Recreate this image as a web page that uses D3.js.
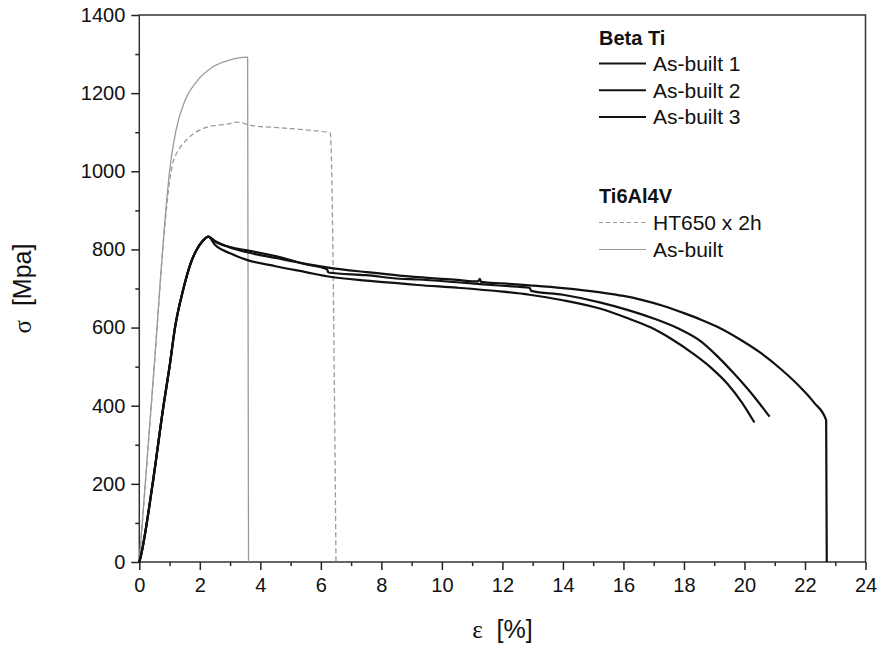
<!DOCTYPE html>
<html>
<head>
<meta charset="utf-8">
<script src="https://cdn.jsdelivr.net/npm/d3@7"></script>
<style>
  body { margin: 0; background: #fff; }
  svg { font-family: "Liberation Sans", Arial, sans-serif; }
</style>
</head>
<body>
<div id="chart_container"></div>
<script>
// stress-strain data: [strain %, stress MPa]
let betaRise = [[0, 0], [0.05, 15], [0.44, 200], [0.8, 400], [1.0, 500], [1.18, 600],
  [1.46, 700], [1.7, 765], [1.9, 800], [2.1, 822], [2.28, 833]];

let betaAsBuilt1 = betaRise.concat([[2.5, 822], [3.0, 805], [3.6, 792], [4.5, 778], [5.5, 763],
  [6.3, 753], [7.5, 742], [8.6, 733], [9.2, 729], [10.5, 722], [11.2, 718], [11.25, 725],
  [11.3, 717], [12.0, 713], [12.9, 708], [14.0, 701], [15.25, 690], [16.0, 681], [16.6, 671],
  [17.3, 656], [18.0, 637], [18.6, 619], [19.1, 602], [19.8, 572], [20.5, 537], [21.2, 494],
  [21.9, 443], [22.3, 408], [22.7, 363], [22.72, 0]]);

let betaAsBuilt2 = betaRise.concat([[2.5, 820], [3.0, 806], [3.6, 797], [4.5, 783], [5.5, 762],
  [6.2, 749], [6.25, 741], [7.5, 734], [8.6, 725], [9.2, 723], [10.5, 716], [12.0, 707],
  [12.9, 702], [12.95, 694], [14.0, 684], [15.25, 664], [16.1, 646], [16.97, 624], [17.8, 598],
  [18.57, 564], [19.1, 527], [19.67, 481], [20.3, 425], [20.83, 372]]);

let betaAsBuilt3 = betaRise.concat([[2.5, 812], [3.0, 790], [3.6, 772], [4.5, 757], [5.5, 742],
  [6.3, 730], [7.5, 720], [8.6, 713], [9.2, 709], [10.5, 702], [12.0, 692], [12.9, 684],
  [14.0, 670], [15.25, 648], [16.1, 625], [16.91, 600], [17.6, 570], [18.29, 534], [18.9, 497],
  [19.45, 455], [19.9, 410], [20.33, 357]]);

let tiHT650 = [[0, 0], [0.5, 505], [0.85, 865], [1.0, 975], [1.1, 1018], [1.3, 1055],
  [1.57, 1081], [2.12, 1110], [2.6, 1118], [3.0, 1122], [3.2, 1126], [3.78, 1116], [4.3, 1113],
  [4.88, 1110], [5.5, 1106], [6.31, 1098], [6.5, 0]];

let tiAsBuilt = [[0, 0], [0.5, 510], [0.85, 876], [1.0, 1000], [1.2, 1100], [1.52, 1183],
  [1.9, 1230], [2.45, 1268], [3.0, 1285], [3.56, 1292], [3.58, 1290], [3.61, 0]];

let xTicks = [0, 2, 4, 6, 8, 10, 12, 14, 16, 18, 20, 22, 24];
let yTicks = [0, 200, 400, 600, 800, 1000, 1200, 1400];

let betaNames = ["As-built 1", "As-built 2", "As-built 3"];
let tiNames = ["HT650 x 2h", "As-built"];

let svgWidth = 879;
let svgHeight = 646;
let plotLeft = 139.3, plotRight = 865.5, plotTop = 15, plotBottom = 562;
let tickFont = 20;
let legendFont = 21;
let titleFont = 25;
let greyColor = "#9a9a9a";

let svg = d3.select("#chart_container")
    .append("svg")
    .attr("width", svgWidth)
    .attr("height", svgHeight);

let xScale = d3.scaleLinear().domain([0, 24]).range([plotLeft, plotRight]);
let yScale = d3.scaleLinear().domain([0, 1400]).range([plotBottom, plotTop]);

// minor ticks first, then the major ones with labels
svg.append("g")
    .attr("transform", "translate(0," + plotBottom + ")")
    .call(d3.axisBottom(xScale).tickValues(d3.range(1, 24, 2)).tickSize(4).tickFormat(""));
svg.append("g")
    .attr("transform", "translate(" + plotLeft + ",0)")
    .call(d3.axisLeft(yScale).tickValues(d3.range(100, 1400, 200)).tickSize(4).tickFormat(""));

svg.append("g")
    .attr("transform", "translate(0," + plotBottom + ")")
    .call(d3.axisBottom(xScale).tickValues(xTicks).tickSize(8).tickPadding(8)
      .tickFormat(d3.format("d")));
svg.append("g")
    .attr("transform", "translate(" + plotLeft + ",0)")
    .call(d3.axisLeft(yScale).tickValues(yTicks).tickSize(8).tickPadding(6)
      .tickFormat(d3.format("d")));

svg.selectAll(".domain").remove();
svg.selectAll(".tick line").attr("stroke", "#222").attr("stroke-width", 1.5);
svg.selectAll(".tick text")
    .attr("font-family", "Liberation Sans, Arial, sans-serif")
    .attr("font-size", tickFont)
    .attr("fill", "#111");

// frame
svg.append("rect")
    .attr("x", plotLeft).attr("y", plotTop)
    .attr("width", plotRight - plotLeft).attr("height", plotBottom - plotTop)
    .attr("fill", "none")
    .attr("stroke", "#333")
    .attr("stroke-width", 1.5);

let line = d3.line()
    .x(d => xScale(d[0]))
    .y(d => yScale(d[1]))
    .curve(d3.curveMonotoneX);

let plot = svg.append("g");

plot.append("path").datum(tiHT650)
    .attr("d", line).attr("fill", "none")
    .attr("stroke", greyColor).attr("stroke-width", 1.3)
    .attr("stroke-dasharray", "5,3");
plot.append("path").datum(tiAsBuilt)
    .attr("d", line).attr("fill", "none")
    .attr("stroke", greyColor).attr("stroke-width", 1.3);

[betaAsBuilt1, betaAsBuilt2, betaAsBuilt3].forEach(series => {
  plot.append("path").datum(series)
      .attr("d", line).attr("fill", "none")
      .attr("stroke", "#111").attr("stroke-width", 2.2)
      .attr("stroke-linejoin", "round");
});

// legend
let legend = svg.append("g").attr("font-size", legendFont).attr("fill", "#111");
let legendX = 599;

legend.append("text")
    .attr("x", legendX).attr("y", 45)
    .attr("font-weight", "bold")
    .attr("font-size", 20)
    .text("Beta Ti");

betaNames.forEach((name, i) => {
  let y = 63.5 + i * 26.7;
  legend.append("line")
      .attr("x1", legendX).attr("x2", legendX + 47)
      .attr("y1", y).attr("y2", y)
      .attr("stroke", "#111").attr("stroke-width", 2);
  legend.append("text")
      .attr("x", legendX + 54).attr("y", y + 7.5)
      .text(name);
});

legend.append("text")
    .attr("x", legendX).attr("y", 203)
    .attr("font-weight", "bold")
    .attr("font-size", 20)
    .text("Ti6Al4V");

tiNames.forEach((name, i) => {
  let y = 222.5 + i * 27;
  legend.append("line")
      .attr("x1", legendX).attr("x2", legendX + 47)
      .attr("y1", y).attr("y2", y)
      .attr("stroke", greyColor).attr("stroke-width", 1.2)
      .attr("stroke-dasharray", i === 0 ? "4,3" : null);
  legend.append("text")
      .attr("x", legendX + 54).attr("y", y + 7.5)
      .text(name);
});

// axis titles
let xTitle = svg.append("text")
    .attr("x", (plotLeft + plotRight) / 2).attr("y", 638)
    .attr("text-anchor", "middle")
    .attr("font-size", titleFont).attr("fill", "#111");
xTitle.append("tspan").attr("font-family", "Liberation Serif, serif").text("ε");
xTitle.append("tspan").text("\u00a0 [%]");

let yTitle = svg.append("text")
    .attr("transform", "translate(31," + (plotTop + plotBottom) / 2 + ") rotate(-90)")
    .attr("text-anchor", "middle")
    .attr("font-size", titleFont).attr("fill", "#111");
yTitle.append("tspan").attr("font-family", "Liberation Serif, serif").text("σ");
yTitle.append("tspan").text("\u00a0 [Mpa]");
</script>
</body>
</html>
